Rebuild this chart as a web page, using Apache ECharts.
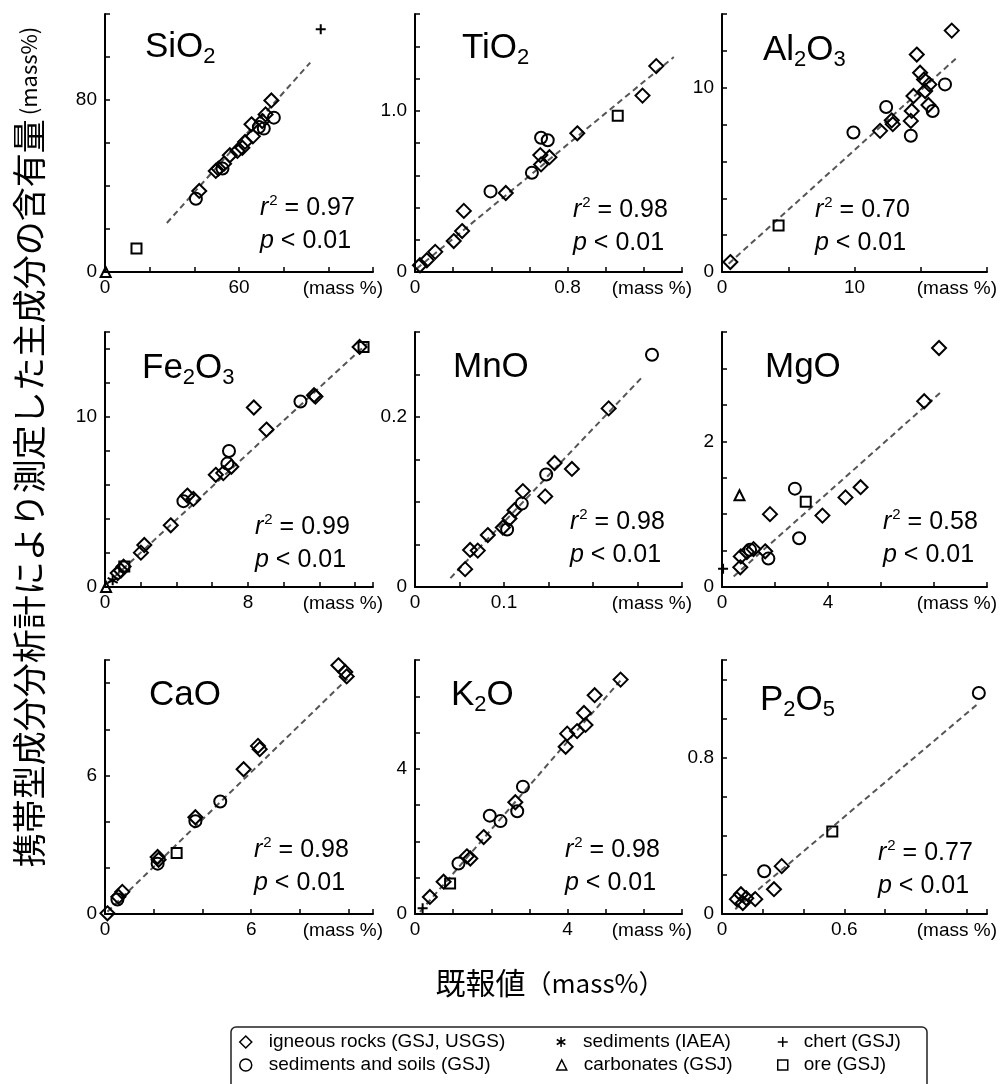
<!DOCTYPE html>
<html><head><meta charset="utf-8">
<script src="https://cdn.jsdelivr.net/npm/echarts@6/dist/echarts.min.js"></script>
<style>html,body{margin:0;padding:0;background:#fff}#c{width:1003px;height:1084px}</style>
</head><body><div id="c"></div>
<script>
// ---------------- DATA ----------------
// [reference value, measured value]
const SiO2_igneous = [[42.2,37.7],[49.6,47.0],[50.8,48.1],[53.3,50.4],[55.9,54.3],[59.3,56.3],[61.5,57.8],[62.7,60.5],[66.2,63.1],[65.6,68.7],[70.4,70.2],[71.9,73.3],[74.5,79.8]];
const SiO2_soils = [[40.7,34.1],[52.6,48.1],[71.1,66.7],[75.6,71.8],[68.9,67.4]];
const SiO2_chert = [[96.6,112.9]];
const SiO2_ore = [[14.1,10.9]];
const SiO2_carb = [[0.3,0]];
const SiO2_fit = [[27.7,22.8],[91.9,97.4]];

const TiO2_igneous = [[1.265,1.277],[1.193,1.094],[0.851,0.860],[0.657,0.725],[0.705,0.712],[0.661,0.667],[0.476,0.490],[0.256,0.379],[0.247,0.254],[0.203,0.192],[0.106,0.125],[0.062,0.073],[0.026,0.042]];
const TiO2_soils = [[1.406,1.448],[0.661,0.833],[0.696,0.817],[0.613,0.615],[0.396,0.500]];
const TiO2_ore = [[1.063,0.969]];
const TiO2_fit = [[0.009,0.021],[1.357,1.333]];

const Al2O3_igneous = [[17.34,13.10],[14.70,11.80],[14.95,10.81],[15.65,10.18],[15.25,10.45],[14.45,9.55],[15.33,9.82],[15.58,9.06],[14.32,8.74],[14.25,8.20],[12.81,8.23],[12.89,8.02],[11.93,7.66],[0.63,0.54]];
const Al2O3_soils = [[16.83,10.18],[15.90,8.74],[14.25,7.39],[12.39,8.95],[9.92,7.57]];
const Al2O3_ore = [[4.27,2.52]];
const Al2O3_fit = [[0.50,0.45],[17.71,11.62]];

const Fe2O3_igneous = [[14.25,14.12],[11.78,11.20],[11.70,11.28],[8.33,10.56],[9.04,9.26],[6.20,6.60],[6.62,6.70],[7.07,7.07],[4.61,5.38],[4.95,5.18],[3.68,3.63],[2.20,2.47],[2.01,2.02],[1.04,1.20],[0.89,0.97],[0.71,0.82]];
const Fe2O3_soils = [[10.94,10.91],[6.94,8.00],[6.85,7.26],[4.39,5.05]];
const Fe2O3_ore = [[14.47,14.12],[1.08,1.20]];
const Fe2O3_carb = [[0.06,0]];
const Fe2O3_iaea = [[0.43,0.39]];
const Fe2O3_fit = [[0.15,0.23],[14.66,14.31]];

const MnO_igneous = [[0.2176,0.2101],[0.1568,0.1459],[0.1763,0.1389],[0.1463,0.1066],[0.1212,0.1128],[0.1118,0.0903],[0.1062,0.0805],[0.0987,0.0700],[0.0818,0.0611],[0.0705,0.0428],[0.0619,0.0436],[0.0563,0.0210]];
const MnO_soils = [[0.2663,0.2732],[0.1474,0.1323],[0.1200,0.0981],[0.1035,0.0677]];
const MnO_fit = [[0.0398,0.0105],[0.2562,0.2479]];

const MgO_igneous = [[8.19,3.28],[7.63,2.55],[5.23,1.37],[4.66,1.23],[3.79,0.98],[1.81,1.00],[1.63,0.49],[1.19,0.52],[0.94,0.48],[0.71,0.42],[0.69,0.27]];
const MgO_soils = [[2.75,1.35],[2.91,0.67],[1.75,0.39],[1.06,0.51]];
const MgO_ore = [[3.16,1.17]];
const MgO_carb = [[0.66,1.26]];
const MgO_chert = [[0.04,0.25]];
const MgO_fit = [[0.44,0.145],[8.31,2.69]];

const CaO_igneous = [[9.58,10.77],[9.86,10.48],[9.92,10.29],[6.28,7.28],[6.35,7.14],[5.69,6.27],[3.71,4.19],[2.16,2.47],[2.20,2.35],[0.71,0.96],[0.55,0.75],[0.10,0.03]];
const CaO_soils = [[4.73,4.87],[3.71,4.02],[2.16,2.18],[0.51,0.63]];
const CaO_ore = [[2.94,2.64]];
const CaO_fit = [[0.10,0.10],[9.95,10.19]];

const K2O_igneous = [[5.39,6.46],[4.71,6.03],[4.43,5.54],[4.47,5.21],[4.25,5.04],[3.99,4.97],[3.95,4.61],[2.63,3.08],[1.80,2.12],[1.36,1.59],[1.45,1.53],[0.75,0.89],[0.39,0.47]];
const K2O_soils = [[2.83,3.51],[2.68,2.83],[2.24,2.56],[1.96,2.71],[1.14,1.39]];
const K2O_ore = [[0.92,0.84]];
const K2O_chert = [[0.20,0.16]];
const K2O_fit = [[0.13,0.06],[5.44,6.50]];

const P2O5_igneous = [[0.293,0.245],[0.255,0.127],[0.093,0.101],[0.119,0.081],[0.163,0.076],[0.073,0.076],[0.102,0.056]];
const P2O5_soils = [[1.260,1.131],[0.207,0.219]];
const P2O5_ore = [[0.541,0.422]];
const P2O5_fit = [[0.065,0.025],[1.260,1.080]];

const r2Values = ['0.97','0.98','0.70','0.99','0.98','0.58','0.98','0.98','0.77'];
const pText = '< 0.01';

// axis scales and the tick labels that are printed
const xMax = [120,1.4,20,15,0.3,10,11,7,1.3];
const xInterval = [20,0.2,5,2,0.05,2,2,1,0.2];
const yMax = [120,1.6,14,15,0.3,3.5,11,7,1.3];
const yInterval = [20,0.2,2,2,0.05,0.5,2,1,0.2];
const xTickLabels = [['0','60'],['0','0.8'],['0','10'],['0','8'],['0','0.1'],['0','4'],['0','6'],['0','4'],['0','0.6']];
const yTickLabels = [['0','80'],['0','1.0'],['0','10'],['0','10'],['0','0.2'],['0','2'],['0','6'],['0','4'],['0','0.8']];

const categoryNames = {
  igneous:'igneous rocks (GSJ, USGS)', soils:'sediments and soils (GSJ)',
  iaea:'sediments (IAEA)', carb:'carbonates (GSJ)',
  chert:'chert (GSJ)', ore:'ore (GSJ)'
};

const panels = [
  {title:'{m|SiO}{s|2}', data:{igneous:SiO2_igneous, soils:SiO2_soils, chert:SiO2_chert, ore:SiO2_ore, carb:SiO2_carb}, fit:SiO2_fit},
  {title:'{m|TiO}{s|2}', data:{igneous:TiO2_igneous, soils:TiO2_soils, ore:TiO2_ore}, fit:TiO2_fit},
  {title:'{m|Al}{s|2}{m|O}{s|3}', data:{igneous:Al2O3_igneous, soils:Al2O3_soils, ore:Al2O3_ore}, fit:Al2O3_fit},
  {title:'{m|Fe}{s|2}{m|O}{s|3}', data:{igneous:Fe2O3_igneous, soils:Fe2O3_soils, ore:Fe2O3_ore, carb:Fe2O3_carb, iaea:Fe2O3_iaea}, fit:Fe2O3_fit},
  {title:'{m|MnO}', data:{igneous:MnO_igneous, soils:MnO_soils}, fit:MnO_fit},
  {title:'{m|MgO}', data:{igneous:MgO_igneous, soils:MgO_soils, ore:MgO_ore, carb:MgO_carb, chert:MgO_chert}, fit:MgO_fit},
  {title:'{m|CaO}', data:{igneous:CaO_igneous, soils:CaO_soils, ore:CaO_ore}, fit:CaO_fit},
  {title:'{m|K}{s|2}{m|O}', data:{igneous:K2O_igneous, soils:K2O_soils, ore:K2O_ore, chert:K2O_chert}, fit:K2O_fit},
  {title:'{m|P}{s|2}{m|O}{s|5}', data:{igneous:P2O5_igneous, soils:P2O5_soils, ore:P2O5_ore}, fit:P2O5_fit}
];

// ---------------- LAYOUT / STYLE ----------------
const colLeft = [105,415,722], colWidth = [268,267,265];
const rowTop = [14,332,660], rowHeight = [258,255,254];
const titlePos = [[145,47],[462,48],[763,50],[142,368],[453,367],[765,367],[149,695],[451,695],[760,700]];
const statPos = [[260,208],[573,210],[815,210],[255,527],[570,522],[883,522],[254,850],[565,850],[878,853]];

const PLUS = 'path://M5 0L5 10M0 5L10 5';
const STAR = 'path://M5 0L5 10M0.7 2.5L9.3 7.5M0.7 7.5L9.3 2.5';
const symbolOf = {igneous:['diamond',14], soils:['circle',12], iaea:[STAR,10], carb:['triangle',10], chert:[PLUS,10], ore:['rect',10]};
const FONT = 'Liberation Sans';

function labelFmt(list){
  return function(v){
    for (const s of list) if (Math.abs(v - parseFloat(s)) < 1e-9) return s;
    return '';
  };
}

const grid = [], xAxis = [], yAxis = [], series = [], title = [];
panels.forEach((p, i) => {
  const c = i % 3, r = Math.floor(i / 3);
  grid.push({left: colLeft[c], top: rowTop[r], width: colWidth[c], height: rowHeight[r], outerBoundsMode:'none', containLabel:false});
  const axisCommon = {
    type:'value', min:0, gridIndex:i,
    axisLine:{show:true, onZero:false, lineStyle:{color:'#000', width:2}},
    axisTick:{show:true, inside:true, length:5, lineStyle:{color:'#000', width:1.5}},
    splitLine:{show:false},
    axisLabel:{color:'#000', fontSize:19, fontFamily:FONT}
  };
  xAxis.push(Object.assign({}, axisCommon, {
    max:xMax[i], interval:xInterval[i],
    axisLabel:Object.assign({}, axisCommon.axisLabel, {margin:6, formatter:labelFmt(xTickLabels[i])}),
    name:'(mass %)', nameLocation:'end', nameGap:10,
    nameTextStyle:{align:'right', verticalAlign:'top', padding:[7,0,0,0], fontSize:19, fontFamily:FONT, color:'#000'}
  }));
  yAxis.push(Object.assign({}, axisCommon, {
    max:yMax[i], interval:yInterval[i],
    axisLabel:Object.assign({}, axisCommon.axisLabel, {margin:8, formatter:labelFmt(yTickLabels[i])})
  }));
  series.push({
    type:'line', xAxisIndex:i, yAxisIndex:i, data:p.fit, symbol:'none', silent:true, z:1,
    lineStyle:{color:'#555', width:2, type:[6,4]}
  });
  Object.keys(p.data).forEach(k => {
    series.push({
      type:'scatter', name:categoryNames[k], xAxisIndex:i, yAxisIndex:i, data:p.data[k],
      symbol:symbolOf[k][0], symbolSize:symbolOf[k][1], silent:true, z:3,
      itemStyle:{color:'rgba(0,0,0,0)', borderColor:'#000', borderWidth:2, opacity:1}
    });
  });
  title.push({
    text:p.title, left:titlePos[i][0], top:titlePos[i][1]-21, padding:0,
    textStyle:{fontWeight:'normal', rich:{
      m:{fontSize:35, fontFamily:FONT, color:'#000', lineHeight:42, fontWeight:'normal'},
      s:{fontSize:22, fontFamily:FONT, color:'#000', lineHeight:16, verticalAlign:'bottom', fontWeight:'normal'}
    }}
  });
  title.push({
    text:'{i|r}{sup|2}{n| = ' + r2Values[i] + '}\n{i|p}{n| ' + pText + '}',
    left:statPos[i][0], top:statPos[i][1]-16.5, padding:0,
    textStyle:{fontWeight:'normal', rich:{
      i:{fontSize:25, fontFamily:FONT, fontStyle:'italic', color:'#000', lineHeight:33, fontWeight:'normal'},
      n:{fontSize:25, fontFamily:FONT, color:'#000', lineHeight:33, fontWeight:'normal'},
      sup:{fontSize:15, fontFamily:FONT, color:'#000', lineHeight:15, verticalAlign:'top', padding:[2,0,0,1], fontWeight:'normal'}
    }}
  });
});

// legend: one component per entry, laid out in 3 columns x 2 rows
const legendOrder = ['igneous','iaea','chert','soils','carb','ore'];
const legendIcon = {igneous:'diamond', soils:'circle', iaea:STAR, carb:'triangle', chert:PLUS, ore:'rect'};
const legendIconSize = {igneous:12, soils:12, iaea:10, carb:10, chert:10, ore:10};
const legendIconCenterX = [245, 561, 782];
const legendTextX = [268, 583, 803];
const legendRowTop = [1032, 1055];
const legend = legendOrder.map((k, j) => {
  const c = j % 3, r = Math.floor(j / 3), s = legendIconSize[k];
  const left = legendIconCenterX[c] - s / 2;
  return {
    orient:'horizontal', left:left, top:legendRowTop[r], padding:0,
    itemWidth:s, itemHeight:s, selectedMode:false,
    textStyle:{fontSize:19, fontFamily:FONT, color:'#000', lineHeight:20,
      padding:[0,0,0, legendTextX[c] - (left + s + 5)]},
    itemStyle:{color:'rgba(0,0,0,0)', borderColor:'#000', borderWidth:1.5},
    data:[{name:categoryNames[k], icon:legendIcon[k]}]
  };
});

const graphic = [
  {type:'rect', shape:{x:231, y:1027, width:696, height:80, r:5}, style:{fill:'none', stroke:'#222', lineWidth:1.5}, silent:true},
  {type:'text', x:29, y:447, rotation:Math.PI/2, silent:true,
    style:{text:'{a|携帯型成分分析計により測定した主成分の含有量}{b|(mass%)}', align:'center', verticalAlign:'middle',
      rich:{a:{fontSize:34, fontFamily:'Noto Sans CJK JP', fill:'#000'}, b:{fontSize:22, fontFamily:'Noto Sans CJK JP', fill:'#000', padding:[0,0,0,4]}}}},
  {type:'text', x:550, y:983, silent:true,
    style:{text:'{a|既報値}{b|（mass%）}', align:'center', verticalAlign:'middle',
      rich:{a:{fontSize:30, fontFamily:'Noto Sans CJK JP', fill:'#000'}, b:{fontSize:26, fontFamily:'Noto Sans CJK JP', fill:'#000'}}}}
];

const chart = echarts.init(document.getElementById('c'), null, {renderer:'canvas'});
chart.setOption({
  backgroundColor:'#fff', animation:false,
  grid, xAxis, yAxis, series, title, legend, graphic
});
</script>
</body></html>
